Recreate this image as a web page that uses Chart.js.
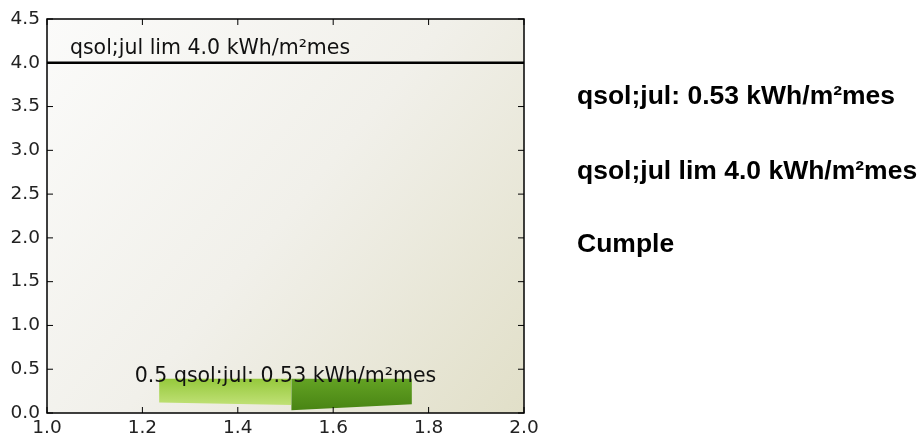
<!DOCTYPE html>
<html>
<head>
<meta charset="utf-8">
<script src="https://cdn.jsdelivr.net/npm/chart.js@4.4.1/dist/chart.umd.min.js"></script>
<style>
  body { margin: 0; background: #fff; }
  #wrap { position: relative; width: 920px; height: 437px; }
  .side { position: absolute; left: 577px; font-family: "Liberation Sans", Arial, sans-serif; font-weight: bold; font-size: 25px; color: #000; white-space: nowrap; transform: scaleX(1.06); transform-origin: left center; }
</style>
</head>
<body>
<div id="wrap">
  <canvas id="myChart" width="920" height="437"></canvas>
  <div class="side" style="top:81px">qsol;jul: 0.53 kWh/m²mes</div>
  <div class="side" style="top:156px">qsol;jul lim 4.0 kWh/m²mes</div>
  <div class="side" style="top:229px">Cumple</div>
</div>
<script>
const xTicks = [1.0, 1.2, 1.4, 1.6, 1.8, 2.0];
const yTicks = [0.0, 0.5, 1.0, 1.5, 2.0, 2.5, 3.0, 3.5, 4.0, 4.5];
const qsolValue = 0.53;
const qsolLimit = 4.0;
const limitX = [1.0, 2.0];
// bar slab (drawn as two faces)
const leftFaceX = [1.235, 1.512];
const leftFaceTop = [0.39, 0.39];
const leftFaceBottom = [0.12, 0.09];
const rightFaceX = [1.512, 1.765];
const rightFaceTop = [0.39, 0.39];
const rightFaceBottom = [0.03, 0.1];
const limitLabel = "qsol;jul lim 4.0 kWh/m²mes";
const valueLabel = "0.5 qsol;jul: 0.53 kWh/m²mes";

function pts(xs, ys) {
    return xs.map((x, i) => ({ x: x, y: ys[i] }));
}

function grad(ctx, chart, c1, c2) {
    const area = chart.chartArea;
    if (!area) return c1;
    const y = chart.scales.y;
    const g = ctx.createLinearGradient(0, y.getPixelForValue(0.4), 0, y.getPixelForValue(0.05));
    g.addColorStop(0, c1);
    g.addColorStop(1, c2);
    return g;
}

const bgPlugin = {
    id: 'bg',
    beforeDatasetsDraw(chart) {
        const { ctx, chartArea: a } = chart;
        const g = ctx.createLinearGradient(a.left, a.top, a.right, a.bottom);
        g.addColorStop(0, '#fbfbfa');
        g.addColorStop(0.5, '#f1f0ea');
        g.addColorStop(1, '#e1dfc8');
        ctx.save();
        ctx.fillStyle = g;
        ctx.fillRect(a.left, a.top, a.right - a.left, a.bottom - a.top);
        ctx.restore();
    },
    afterDatasetsDraw(chart) {
        const { ctx, chartArea: a, scales } = chart;
        ctx.save();
        // frame
        ctx.strokeStyle = '#000';
        ctx.lineWidth = 1.5;
        ctx.strokeRect(a.left, a.top, a.right - a.left, a.bottom - a.top);
        // inward ticks
        ctx.lineWidth = 1;
        xTicks.forEach(v => {
            const px = scales.x.getPixelForValue(v);
            ctx.beginPath();
            ctx.moveTo(px, a.bottom); ctx.lineTo(px, a.bottom - 6);
            ctx.moveTo(px, a.top); ctx.lineTo(px, a.top + 6);
            ctx.stroke();
        });
        yTicks.forEach(v => {
            const py = scales.y.getPixelForValue(v);
            ctx.beginPath();
            ctx.moveTo(a.left, py); ctx.lineTo(a.left + 6, py);
            ctx.moveTo(a.right, py); ctx.lineTo(a.right - 6, py);
            ctx.stroke();
        });
        // text labels
        ctx.fillStyle = '#111';
        ctx.font = '20.5px "DejaVu Sans"';
        ctx.textBaseline = 'alphabetic';
        ctx.textAlign = 'left';
        ctx.fillText(limitLabel, scales.x.getPixelForValue(1.048), scales.y.getPixelForValue(4.1));
        ctx.fillText(valueLabel, scales.x.getPixelForValue(1.184), scales.y.getPixelForValue(0.35));
        ctx.restore();
    }
};

const config = {
    type: 'line',
    data: {
        datasets: [{
            label: 'limit',
            data: pts(limitX, [qsolLimit, qsolLimit]),
            borderColor: '#000',
            borderWidth: 2.5,
            pointRadius: 0,
            fill: false
        }, {
            label: 'leftTop',
            data: pts(leftFaceX, leftFaceTop),
            borderWidth: 0,
            pointRadius: 0,
            fill: '+1',
            backgroundColor: (c) => grad(c.chart.ctx, c.chart, '#94c83a', '#c6e47e')
        }, {
            label: 'leftBottom',
            data: pts(leftFaceX, leftFaceBottom),
            borderWidth: 0,
            pointRadius: 0,
            fill: false
        }, {
            label: 'rightTop',
            data: pts(rightFaceX, rightFaceTop),
            borderWidth: 0,
            pointRadius: 0,
            fill: '+1',
            backgroundColor: (c) => grad(c.chart.ctx, c.chart, '#64a324', '#4a8614')
        }, {
            label: 'rightBottom',
            data: pts(rightFaceX, rightFaceBottom),
            borderWidth: 0,
            pointRadius: 0,
            fill: false
        }]
    },
    options: {
        responsive: false,
        animation: false,
        layout: { padding: { left: 0, top: 19, right: 396, bottom: 0 } },
        plugins: { legend: { display: false }, tooltip: { enabled: false } },
        scales: {
            x: {
                type: 'linear',
                min: 1.0, max: 2.0,
                afterBuildTicks: (s) => { s.ticks = xTicks.map(v => ({ value: v })); },
                afterFit: (s) => { s.height = 24; },
                grid: { display: false, drawTicks: false },
                border: { display: false },
                ticks: { font: { family: 'DejaVu Sans', size: 18.5 }, color: '#222', padding: 4, maxRotation: 0,
                         callback: (v) => v.toFixed(1) }
            },
            y: {
                type: 'linear',
                min: 0, max: 4.5,
                afterBuildTicks: (s) => { s.ticks = yTicks.map(v => ({ value: v })); },
                afterFit: (s) => { s.width = 47; },
                grid: { display: false, drawTicks: false },
                border: { display: false },
                ticks: { font: { family: 'DejaVu Sans', size: 18.5 }, color: '#222', padding: 7,
                         callback: (v) => v.toFixed(1) }
            }
        }
    },
    plugins: [bgPlugin]
};

const myChart = new Chart(document.getElementById('myChart'), config);
</script>
</body>
</html>
